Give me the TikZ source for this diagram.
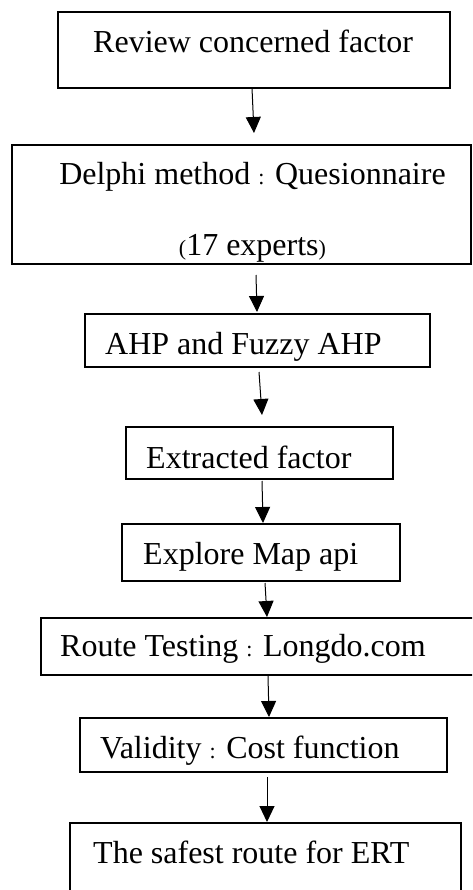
\documentclass[tikz,border=0pt]{standalone}
\usepackage{fontspec}
\setmainfont{Liberation Serif}
\usetikzlibrary{arrows.meta}

% small punctuation set in a reduced size
\newcommand{\smallp}[1]{{\fontsize{22}{22}\selectfont #1}}

\begin{document}
\begin{tikzpicture}[x=1pt,y=-1pt,
  box/.style={draw=black, line width=1.5pt, inner sep=0pt, outer sep=0pt},
  lbl/.style={anchor=base west, inner sep=0pt, font=\fontsize{32}{38}\selectfont},
  arr/.style={line width=1pt, -{Triangle[length=16pt,width=15pt]}}]

\useasboundingbox (0,0) rectangle (472,890);
\clip (0,0) rectangle (472,890);
\fill[white] (0,0) rectangle (472,890);

% process boxes
\node[box, minimum width=392pt, minimum height=76pt]  (b1) at (254,50) {};
\node[box, minimum width=459pt, minimum height=119pt] (b2) at (241.5,204.5) {};
\node[box, minimum width=345pt, minimum height=53pt]  (b3) at (257.5,340.5) {};
\node[box, minimum width=267pt, minimum height=52pt]  (b4) at (259.5,453) {};
\node[box, minimum width=278pt, minimum height=57pt]  (b5) at (261,552.5) {};
\node[box, minimum width=439pt, minimum height=57pt]  (b6) at (260.5,646.5) {};
\node[box, minimum width=367pt, minimum height=54pt]  (b7) at (263.5,745) {};
\node[box, minimum width=391pt, minimum height=82pt]  (b8) at (265.5,864) {};

% box texts
\node[lbl] (t1)  at (93,53)   {Review concerned factor};
\node[lbl, anchor=base] (t2a) at (252.5,185) {Delphi method \smallp{:} Quesionnaire};
\node[lbl, anchor=base] (t2b) at (252.5,255) {\smallp{(}17 experts\smallp{)}};
\node[lbl] (t3)  at (105,354) {AHP and Fuzzy AHP};
\node[lbl] (t4)  at (146,468) {Extracted factor};
\node[lbl] (t5)  at (143,564) {Explore Map api};
\node[lbl] (t6)  at (60,656)  {Route Testing \smallp{:} Longdo.com};
\node[lbl] (t7)  at (100,758) {Validity \smallp{:} Cost function};
\node[lbl] (t8)  at (93,863)  {The safest route for ERT};

% connectors
\draw[arr] ([xshift=-2pt]b1.south) -- ([xshift=12.5pt,yshift=12pt]b2.north);
\draw[arr] ([xshift=14.5pt,yshift=-11pt]b2.south) -- ([xshift=-0.5pt,yshift=2pt]b3.north);
\draw[arr] ([xshift=1.5pt,yshift=-5pt]b3.south) -- ([xshift=2.5pt,yshift=12pt]b4.north);
\draw[arr] ([xshift=2.5pt,yshift=-2pt]b4.south) -- ([xshift=2pt,yshift=1pt]b5.north);
\draw[arr] ([xshift=4pt,yshift=-2pt]b5.south) -- ([xshift=6.5pt,yshift=1pt]b6.north);
\draw[arr] ([xshift=7.5pt,yshift=-1pt]b6.south) -- ([xshift=5.5pt,yshift=1pt]b7.north);
\draw[arr] ([xshift=3.5pt,yshift=-5pt]b7.south) -- ([xshift=1.5pt,yshift=1pt]b8.north);
\end{tikzpicture}
\end{document}
